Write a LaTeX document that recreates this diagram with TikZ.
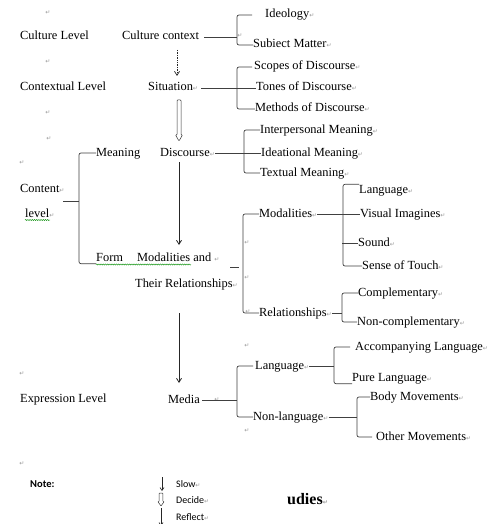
\documentclass[tikz,border=0pt]{standalone}
\usepackage{fontspec}
\setmainfont{Liberation Serif}
\newfontfamily\calfont{Carlito}
\newfontfamily\djfont{DejaVu Sans}
\usetikzlibrary{arrows.meta,decorations.pathmorphing}
\newcommand{\retm}{{\djfont\fontsize{6}{6}\selectfont\color{black!40}\char"21B5}}
\begin{document}
\begin{tikzpicture}[x=1pt,y=-1pt,
  lbl/.style={anchor=west, inner sep=0pt, text height=8.5pt, text depth=2.5pt, font=\fontsize{12.4}{14}\selectfont},
  leg/.style={anchor=west, inner sep=0pt, font=\calfont\fontsize{10}{12}\selectfont},
  rm/.style={inner sep=0pt, font=\djfont\fontsize{6}{6}\selectfont, text=black!40},
  ln/.style={line width=0.7pt, draw=black!75},
  br/.style={ln, rounded corners=2pt},
  arr/.style={line width=0.8pt, draw=black!85, -{Straight Barb[length=4pt,width=5pt]}},
  hollow/.style={line width=0.5pt, draw=black!80, line join=miter},
  wavy/.style={draw=green!55!black, line width=0.4pt, decorate, decoration={snake, amplitude=0.6pt, segment length=2.2pt}}]
\useasboundingbox (0,0) rectangle (492,524);
\fill[white] (0,0) rectangle (492,524);

% spine coordinates
\coordinate (s1) at (237,0);
\coordinate (s2) at (237,0);
\coordinate (s3) at (244,0);
\coordinate (s4) at (79,0);
\coordinate (s5) at (243,0);
\coordinate (s6) at (343,0);
\coordinate (s7) at (342,0);
\coordinate (s8) at (237,0);
\coordinate (s9) at (334,0);
\coordinate (s10) at (357,0);

% level labels
\node[lbl] (cultL) at (20,37) {Culture Level};
\node[lbl] (ctxL) at (20,88) {Contextual Level};
\node[lbl] (content) at (20,189) {Content\retm};
\node[lbl] (level) at (25,214) {level\retm};
\node[lbl] (exprL) at (20,399) {Expression Level};

% middle column
\node[lbl] (cc) at (122,37) {Culture context};
\node[lbl] (sit) at (148,88) {Situation\retm};
\node[lbl] (meaning) at (96,153) {Meaning};
\node[lbl] (disc) at (160,153) {Discourse\retm};
\node[lbl] (form) at (96,258) {Form};
\node[lbl] (modand) at (137,258) {Modalities and \retm};
\node[lbl] (their) at (135,284) {Their Relationships\retm};
\node[lbl] (media) at (168,400) {Media};

% right columns
\node[lbl] (ideo) at (265,15) {Ideology\retm};
\node[lbl] (subj) at (253,45) {Subiect Matter\retm};
\node[lbl] (scope) at (254,67) {Scopes of Discourse\retm};
\node[lbl] (tones) at (256,88) {Tones of Discourse\retm};
\node[lbl] (meth) at (255,109) {Methods of Discourse\retm};
\node[lbl] (inter) at (260,130) {Interpersonal Meaning\retm};
\node[lbl] (idea) at (261,153) {Ideational Meaning\retm};
\node[lbl] (textual) at (260,173) {Textual Meaning\retm};
\node[lbl] (modal) at (259,214) {Modalities\retm};
\node[lbl] (rel) at (259,313) {Relationships\retm};
\node[lbl] (lang1) at (359,190) {Language\retm};
\node[lbl] (visual) at (360,214) {Visual Imagines\retm};
\node[lbl] (sound) at (358,243) {Sound\retm};
\node[lbl] (touch) at (362,266) {Sense of Touch\retm};
\node[lbl] (comp) at (358,293) {Complementary\retm};
\node[lbl] (noncomp) at (357,322) {Non-complementary\retm};
\node[lbl] (lang2) at (255,366) {Language\retm};
\node[lbl] (nonlang) at (253,417) {Non-language\retm};
\node[lbl] (accomp) at (355,347) {Accompanying Language\retm};
\node[lbl] (pure) at (352,378) {Pure Language\retm};
\node[lbl] (body) at (370,397) {Body Movements\retm};
\node[lbl] (other) at (376,437) {Other Movements\retm};

% free return marks
\node[rm] (r1) at (48,13) {\char"21B5};
\node[rm] (r2) at (48,62) {\char"21B5};
\node[rm] (r3) at (48,113) {\char"21B5};
\node[rm] (r4) at (49,139) {\char"21B5};
\node[rm] (r5) at (22,163) {\char"21B5};
\node[rm] (r6) at (240,36) {\char"21B5};
\node[rm] (r7) at (247,243) {\char"21B5};
\node[rm] (r8) at (247,278) {\char"21B5};
\node[rm] (r9) at (248,312) {\char"21B5};
\node[rm] (r10) at (22,374) {\char"21B5};
\node[rm] (r11) at (247,346) {\char"21B5};
\node[rm] (r12) at (247,431) {\char"21B5};
\node[rm] (r13) at (22,464) {\char"21B5};
\node[rm] (r14) at (217,400) {\char"21B5};

% bracket 1
\draw[ln, shorten <=5pt] (cc.east) -- (cc.east -| s1);
\draw[br, shorten <=13pt] (ideo.west) -- (ideo.west -| s1) -- (subj.west -| s1) -- (subj.west);
% bracket 2
\draw[ln, shorten <=3pt] (sit.east) -- (tones.west);
\draw[br, shorten <=2pt] (scope.west) -- (scope.west -| s2) -- (meth.west -| s2) -- (meth.west);
% bracket 3
\draw[ln] (disc.east) -- (idea.west);
\draw[br] (inter.west) -- (inter.west -| s3) -- (textual.west -| s3) -- (textual.west);
% content bracket
\coordinate (cm) at (63,201);
\draw[ln] (cm) -- (cm -| s4);
\draw[br] (meaning.west) -- (meaning.west -| s4) -- (form.south west -| s4) -- (form.south west);
% bracket 4
\coordinate (d1) at (230,267);
\coordinate (d2) at (239,267);
\draw[ln] (d1) -- (d2);
\draw[br] (modal.west) -- (modal.west -| s5) -- (rel.west -| s5) -- (rel.west);
% bracket 5
\draw[ln] (modal.east) -- (visual.west);
\draw[br] (lang1.north west) -- (lang1.north west -| s6) -- (touch.west -| s6) -- (touch.west);
\draw[ln] ([xshift=-1pt]sound.west -| s6) -- (sound.west);
% bracket 6
\draw[ln] (rel.east) -- (rel.east -| s7);
\draw[br] (comp.west) -- (comp.west -| s7) -- (noncomp.west -| s7) -- (noncomp.west);
% bracket 7
\draw[ln, shorten <=2pt] (media.east) -- (media.east -| s8);
\draw[br, shorten <=2pt] (lang2.west) -- (lang2.west -| s8) -- (nonlang.west -| s8) -- (nonlang.west);
% bracket 8
\draw[ln] (lang2.east) -- (lang2.east -| s9);
\draw[br, shorten <=5pt] (accomp.west) -- (accomp.west -| s9) -- (pure.south west -| s9) -- (pure.south west);
% bracket 9
\draw[ln] (nonlang.east) -- (nonlang.east -| s10);
\draw[br, shorten >=4pt] (body.west) -- (body.west -| s10) -- (other.west -| s10) -- (other.west);

% vertical arrows
\coordinate (a1s) at (177,50);  \coordinate (a1e) at (177,76);
\coordinate (a2s) at (179,100); \coordinate (a2e) at (179,141);
\coordinate (a3s) at (179,162); \coordinate (a3e) at (179,245);
\coordinate (a4s) at (179,313); \coordinate (a4e) at (179,383);
\draw[line width=0.7pt, draw=black!85, densely dotted, -{Straight Barb[length=4pt,width=5pt]}] (a1s) -- (a1e);
\draw[hollow, rounded corners=0.8pt] ([xshift=-2pt]a2s) -- ([shift={(-2pt,6pt)}]a2e) -- ([shift={(-3.5pt,6pt)}]a2e) -- (a2e) -- ([shift={(3.5pt,6pt)}]a2e) -- ([shift={(2pt,6pt)}]a2e) -- ([xshift=2pt]a2s) -- cycle;
\draw[arr] (a3s) -- (a3e);
\draw[arr] (a4s) -- (a4e);

% green wavy underlines
\draw[wavy] (25,220) -- (50,220);
\draw[wavy] (96,264.5) -- (191,264.5);

% legend
\node[leg, font=\calfont\bfseries\fontsize{10.5}{12}\selectfont] (note) at (30,484) {Note:};
\node[leg] (slow) at (176,484) {Slow\retm};
\node[leg] (decide) at (176,500) {Decide\retm};
\node[leg] (reflect) at (176,517) {Reflect\retm};
\coordinate (l1s) at (162,477); \coordinate (l1e) at (162,491);
\coordinate (l2s) at (161,493); \coordinate (l2e) at (161,506);
\coordinate (l3s) at (161,508); \coordinate (l3e) at (161,526);
\draw[line width=0.6pt, draw=black!85, -{Straight Barb[length=3pt,width=4pt]}] (l1s) -- (l1e);
\draw[hollow, rounded corners=0.6pt] ([xshift=-1.8pt]l2s) -- ([shift={(-1.8pt,4.5pt)}]l2e) -- ([shift={(-3.2pt,4.5pt)}]l2e) -- (l2e) -- ([shift={(3.2pt,4.5pt)}]l2e) -- ([shift={(1.8pt,4.5pt)}]l2e) -- ([xshift=1.8pt]l2s) -- cycle;
\draw[line width=0.6pt, draw=black!85, -{Straight Barb[length=3pt,width=4pt]}] (l3s) -- (l3e);
\node[anchor=west, inner sep=0pt, font=\bfseries\fontsize{16}{18}\selectfont] (udies) at (287,499) {udies\retm};
\end{tikzpicture}
\end{document}
